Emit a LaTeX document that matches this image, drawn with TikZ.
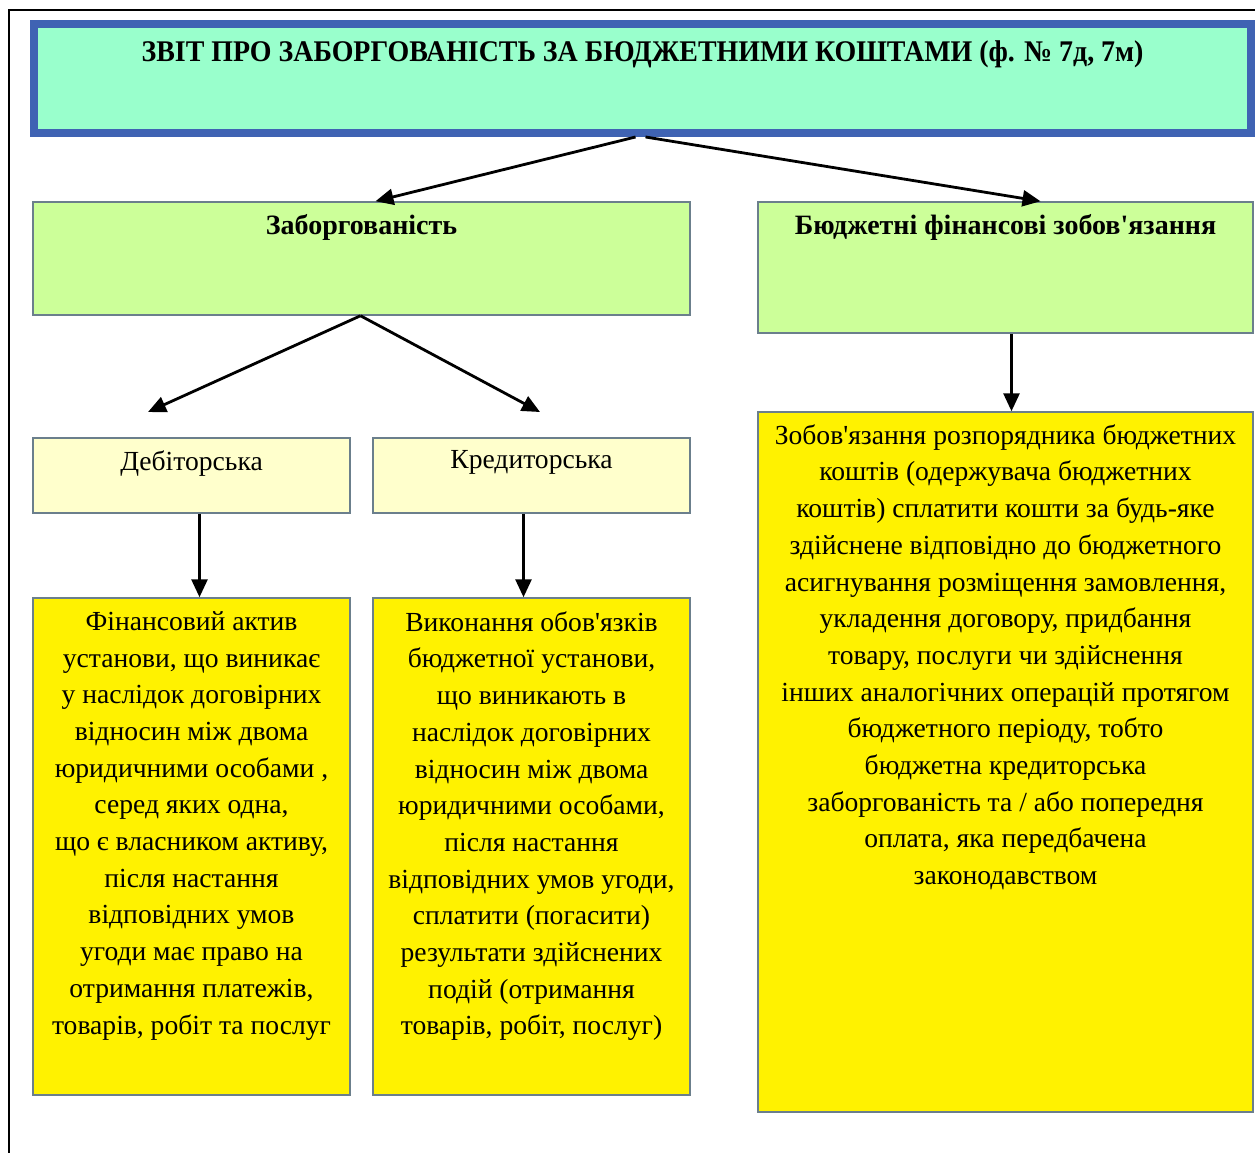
\documentclass[tikz,border=0pt]{standalone}
\usepackage{fontspec}
\setmainfont{Liberation Serif}[Ligatures=TeXOff]
\newfontfamily\titlefont{Liberation Serif}[Ligatures=TeXOff,FakeStretch=0.93]
\usetikzlibrary{arrows.meta,positioning}

\definecolor{titleblue}{HTML}{3F63B3}
\definecolor{titlefill}{HTML}{99FFCC}
\definecolor{greenfill}{HTML}{CCFF99}
\definecolor{paleyellow}{HTML}{FFFFCC}
\definecolor{boxline}{HTML}{6B7F8C}

\tikzset{
  box/.style={rectangle,draw=boxline,line width=1.5pt,inner sep=0pt},
  greenbox/.style={box,fill=greenfill},
  palebox/.style={box,fill=paleyellow},
  yellowbox/.style={box,fill=yellow},
  body/.style={align=center,font=\fontsize{27.6}{36.7}\selectfont,inner sep=0pt},
  head/.style={align=center,font=\fontsize{28}{32}\selectfont\bfseries,inner sep=0pt},
  link/.style={->,line width=2.8pt,>={Triangle[length=18pt,width=16pt]}}
}

\begin{document}
\begin{tikzpicture}[x=1pt,y=-1pt]
        \useasboundingbox (0,0) rectangle (1255,1153);
        \fill[white] (0,0) rectangle (1255,1153);
        \draw[line width=2.5pt] (9,1153) -- (9,10) -- (1256,10);

        % title
        \draw (642.5,78.5) node (title) [rectangle,draw=titleblue,fill=titlefill,line width=8pt,minimum width=1217pt,minimum height=109pt] {};
        \node (titleText) [below=20pt of title.north,font=\fontsize{30}{36}\titlefont\bfseries,inner sep=0pt] {ЗВІТ ПРО ЗАБОРГОВАНІСТЬ ЗА БЮДЖЕТНИМИ КОШТАМИ (ф. № 7д, 7м)};

        % second level
        \draw (361.5,258.5) node (zab) [greenbox,minimum width=657pt,minimum height=113pt] {};
        \node (zabText) [head,below=13pt of zab.north] {Заборгованість};
        \draw (1005.5,267.5) node (budg) [greenbox,minimum width=495pt,minimum height=131pt] {};
        \node (budgText) [head,below=13pt of budg.north] {Бюджетні фінансові зобов'язання};

        % third level
        \draw (191.5,475.5) node (deb) [palebox,minimum width=317pt,minimum height=75pt] {};
        \node (debText) [body,below=13pt of deb.north] {Дебіторська};
        \draw (531.5,475.5) node (kred) [palebox,minimum width=317pt,minimum height=75pt] {};
        \node (kredText) [body,below=13pt of kred.north] {Кредиторська};

        % yellow boxes
        \draw (191.5,846.5) node (debInfo) [yellowbox,minimum width=317pt,minimum height=497pt] {};
        \node (debInfoText) [body,below=14pt of debInfo.north] {Фінансовий актив\\ установи, що виникає\\ у наслідок договірних\\ відносин між двома\\ юридичними особами ,\\ серед яких одна,\\ що є власником активу,\\ після настання\\ відповідних умов\\ угоди має право на\\ отримання платежів,\\ товарів, робіт та послуг};
        \draw (531.5,846.5) node (kredInfo) [yellowbox,minimum width=317pt,minimum height=497pt] {};
        \node (kredInfoText) [body,below=14pt of kredInfo.north] {Виконання обов'язків\\ бюджетної установи,\\ що виникають в\\ наслідок договірних\\ відносин між двома\\ юридичними особами,\\ після настання\\ відповідних умов угоди,\\ сплатити (погасити)\\ результати здійснених\\ подій (отримання\\ товарів, робіт, послуг)};
        \draw (1005.5,762) node (budgInfo) [yellowbox,minimum width=495pt,minimum height=700pt] {};
        \node (budgInfoText) [body,below=13pt of budgInfo.north] {Зобов'язання розпорядника бюджетних\\ коштів (одержувача бюджетних\\ коштів) сплатити кошти за будь-яке\\ здійснене відповідно до бюджетного\\ асигнування розміщення замовлення,\\ укладення договору, придбання\\ товару, послуги чи здійснення\\ інших аналогічних операцій протягом\\ бюджетного періоду, тобто\\ бюджетна кредиторська\\ заборгованість та / або попередня\\ оплата, яка передбачена\\ законодавством};

        \coordinate (debEnd) at (148,412);
        \coordinate (kredEnd) at (540,412);

        \draw [link] ([xshift=-7pt]title.south) to ([xshift=14pt]zab.north);
        \draw [link] ([xshift=3pt]title.south) to ([xshift=35pt]budg.north);
        \draw [link] ([xshift=-1pt]zab.south) to (debEnd);
        \draw [link] ([xshift=-1pt]zab.south) to (kredEnd);
        \draw [link] ([xshift=8pt]deb.south) to ([xshift=8pt]debInfo.north);
        \draw [link] ([xshift=-8pt]kred.south) to ([xshift=-8pt]kredInfo.north);
        \draw [link] ([xshift=6pt]budg.south) to ([xshift=6pt]budgInfo.north);
    \end{tikzpicture}
\end{document}
